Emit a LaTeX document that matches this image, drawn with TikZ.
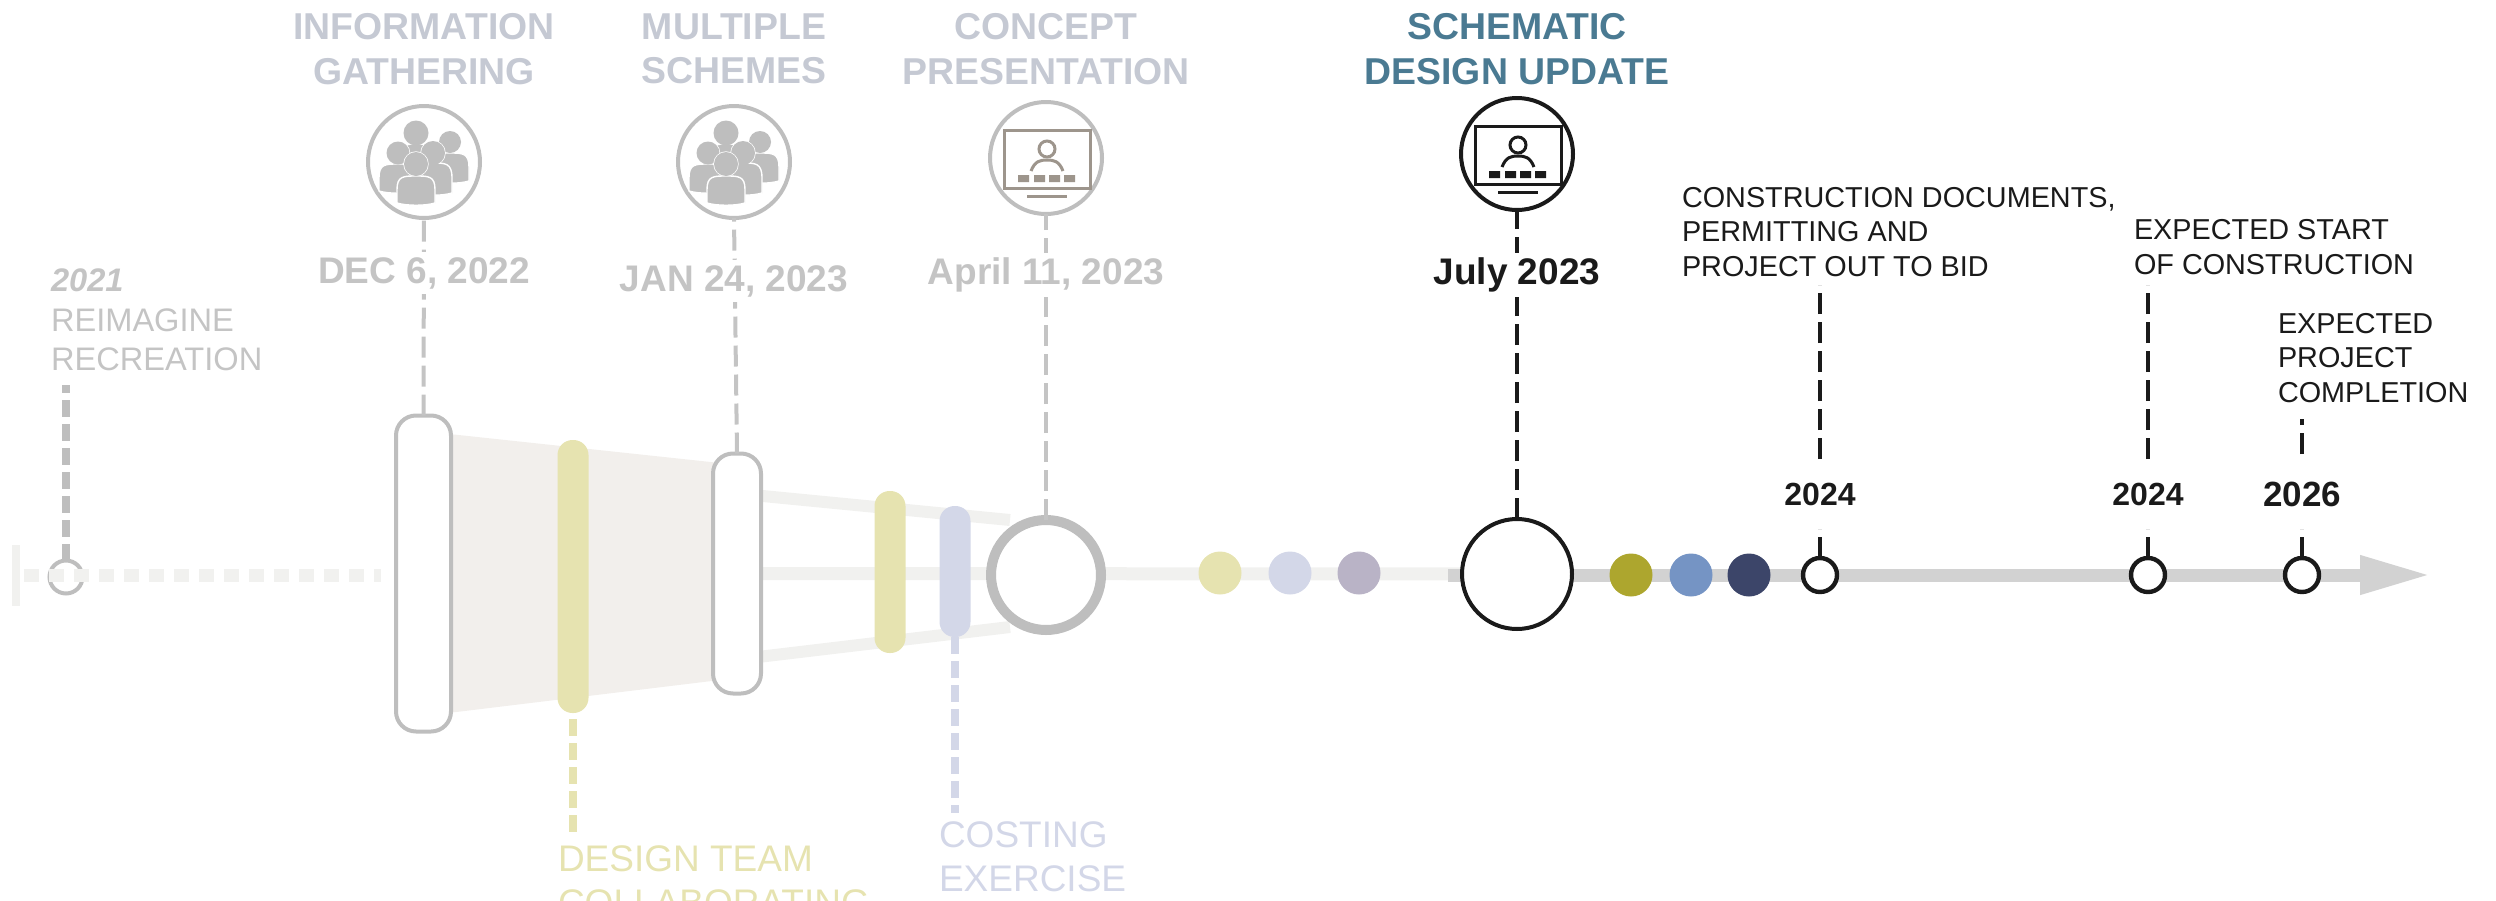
\documentclass[tikz,border=0pt]{standalone}
\usepackage{fontspec}
\setmainfont{Liberation Sans}
\usetikzlibrary{arrows.meta,backgrounds}
\definecolor{titlegrey}{HTML}{C5C9D3}
\definecolor{dategrey}{HTML}{C4C4C4}
\definecolor{ringgrey}{HTML}{BEBEBE}
\definecolor{screengrey}{HTML}{9D958C}
\definecolor{teal}{HTML}{4A7A92}
\definecolor{ink}{HTML}{1A1A1A}
\definecolor{pale}{HTML}{F1F1EF}
\definecolor{funnel}{HTML}{F2EFEC}
\definecolor{paleyellow}{HTML}{E6E3B0}
\definecolor{paleblue}{HTML}{D3D7E8}
\definecolor{palepurple}{HTML}{B9B3C6}
\definecolor{olive}{HTML}{ADA62E}
\definecolor{midblue}{HTML}{7594C4}
\definecolor{navy}{HTML}{3C4569}
\definecolor{axisgrey}{HTML}{D2D2D2}
\newcommand{\crowdperson}[6]{%
  \begin{scope}[shift={(#1,#2)}]
    \filldraw[draw=white,line width=.7pt,fill=ringgrey] (0,0) circle[radius=#3];
    \filldraw[draw=white,line width=.7pt,fill=ringgrey]
      ({-#5},#6) -- ({-#5},{#4+.5*(#6-#4)})
      .. controls ({-#5},#4) and ({-.65*#5},#4) .. (0,#4)
      .. controls ({.65*#5},#4) and (#5,#4) .. (#5,{#4+.5*(#6-#4)})
      -- (#5,#6) .. controls ({.5*#5},{#6+3}) and ({-.5*#5},{#6+3}) .. cycle;
    \fill[ringgrey] (0,0) circle[radius=#3];
  \end{scope}}
\tikzset{
  x=.5pt,y=-.5pt,
  every node/.style={inner sep=0pt,outer sep=0pt},
  title/.style={font=\fontsize{18.7}{22.2}\selectfont\bfseries,align=center,text=titlegrey},
  datelabel/.style={font=\fontsize{18.5}{22}\selectfont\bfseries,text=dategrey,fill=white,inner xsep=3pt,inner ysep=2.5pt},
  blacktext/.style={font=\fontsize{14.4}{17.4}\selectfont,align=left,anchor=west,text=ink},
  yearlabel/.style={font=\fontsize{16}{20}\selectfont\bfseries,text=ink,minimum height=35pt},
  iconring/.style={circle,draw=ringgrey,line width=2pt,minimum size=56pt,fill=white},
  inkring/.style={circle,draw=ink,line width=2pt,minimum size=56pt,fill=white},
  smallink/.style={circle,draw=ink,line width=2.2pt,minimum size=17pt,fill=white},
  dot/.style={circle,minimum size=21.5pt,fill=#1},
  shell/.style={rectangle,draw=ringgrey,line width=2pt,fill=white,rounded corners=10pt,minimum width=#1},
  band/.style={rectangle,rounded corners=7.5pt,minimum width=15.5pt,fill=#1},
  greydash/.style={draw=dategrey,line width=2pt,dash pattern=on 10.5pt off 4pt},
  inkdash/.style={draw=ink,line width=2pt,dash pattern=on 10.5pt off 4pt},
  thickdash/.style={line width=4pt,dash pattern=on 8.5pt off 3.5pt},
  screen/.pic={
    \draw[line width=1.5pt,draw=#1] (-42,-28) rectangle (44,30);
    \draw[line width=1.5pt,draw=#1] (1,-9) circle[radius=8];
    \draw[line width=1.5pt,draw=#1] (-15,13) .. controls (-11,3) and (-6,2) .. (1,2) .. controls (8,2) and (13,3) .. (17,13);
    \fill[#1] (-28,17) rectangle (-17,24) (-12,17) rectangle (-1,24) (3,17) rectangle (14,24) (18,17) rectangle (29,24);
    \draw[line width=1.5pt,draw=#1] (-19,38) -- (21,38);
  },
  crowd/.pic={
    \crowdperson{-8}{-29}{12.5}{11}{11}{20}
    \crowdperson{26}{-20}{11}{11}{19}{39}
    \crowdperson{-26}{-9}{11.5}{11}{19}{38}
    \crowdperson{9}{-9}{12}{10}{19}{40}
    \crowdperson{-8}{2}{12}{12}{19}{39}
  }
}
\begin{document}
\begin{tikzpicture}
\useasboundingbox (0,0) rectangle (2496,900);
\clip (0,0) rectangle (2496,900);

% titles
\node[title] (tInfo) at (424,49) {INFORMATION\\GATHERING};
\node[title] (tMulti) at (734,49) {MULTIPLE\\SCHEMES};
\node[title] (tConcept) at (1046,49) {CONCEPT\\PRESENTATION};
\node[title,text=teal] (tSchem) at (1517,49) {SCHEMATIC\\DESIGN UPDATE};

% icon rings
\node[iconring] (iInfo) at (424,162) {};
\node[iconring] (iMulti) at (734,162) {};
\node[iconring] (iConcept) at (1046,158) {};
\node[inkring] (iSchem) at (1517,154) {};
\pic at (424,162) {crowd};
\pic at (734,162) {crowd};
\pic at (1046,158) {screen=screengrey};
\pic at (1517,154) {screen=ink};

% funnel capsules
\node[shell=27.5pt,minimum height=158pt] (capA) at (423.5,573.5) {};
\node[band=paleyellow,minimum height=136.5pt] (yelA) at (573,576.5) {};
\node[shell=24pt,minimum height=120pt] (capB) at (737,573.5) {};
\node[band=paleyellow,minimum height=81pt] (yelB) at (890,572) {};
\node[band=paleblue,minimum height=65.5pt] (bluB) at (955,571.5) {};
\node[circle,draw=ringgrey,line width=5pt,minimum size=55pt,fill=white] (bigC) at (1046,575) {};

% middle of the timeline
\node[dot=paleyellow] (d1) at (1220,573) {};
\node[dot=paleblue] (d2) at (1290,573) {};
\node[dot=palepurple] (d3) at (1359,573) {};
\node[circle,draw=ink,line width=2pt,minimum size=55pt,fill=white] (bigK) at (1517,574) {};
\node[dot=olive] (d4) at (1631,575) {};
\node[dot=midblue] (d5) at (1691,575) {};
\node[dot=navy] (d6) at (1749,575) {};
\node[smallink] (s1) at (1820,575) {};
\node[smallink] (s2) at (2148,575) {};
\node[smallink] (s3) at (2302,575) {};

% free ends
\coordinate (tbarT) at (16,545);
\coordinate (tbarB) at (16,606);
\coordinate (tlineA) at (24,575);
\coordinate (tlineB) at (381,575);
\coordinate (axisA) at (1448,575);
\coordinate (axisB) at (2431,575);
\coordinate (recEnd) at (66,385);
\coordinate (yelEnd) at (573,832);
\coordinate (bluEnd) at (955,813);
\coordinate (e1) at (1820,285);
\coordinate (e2) at (2148,285);
\coordinate (e3) at (2302,419);

\begin{scope}[on background layer]
  \fill[funnel] (440,433) -- (720,463) -- (720,680) -- (440,714) -- cycle;
  \draw[pale,line width=6pt] (capB.center) ++(0,-80) -- (1010,520);
  \draw[pale,line width=6pt] (capB.center) ++(0,86) -- (1010,627);
  \draw[pale,line width=6.5pt] (capB.east) -- (bigK.center);
  \draw[axisgrey,line width=6.5pt,-{Triangle[length=35.5pt,width=18pt]}] (axisA) -- (axisB);
\end{scope}

% start of the timeline
\node[circle,draw=ringgrey,line width=2pt,minimum size=16.5pt] (s0) at (66,577) {};
\draw[pale,line width=4pt] (tbarT) -- (tbarB);
\draw[pale,line width=6.5pt,dash pattern=on 7.5pt off 5pt] (tlineA) -- (tlineB);

% connectors
\draw[greydash] (capA.north) -- (iInfo.south);
\draw[greydash] (capB.north) -- (iMulti.south);
\draw[greydash] (bigC.north) -- (iConcept.south);
\draw[inkdash] (bigK.north) -- (iSchem.south);
\draw[ringgrey,thickdash] (s0.north) -- (recEnd);
\draw[paleyellow,thickdash,shorten <=3pt] (yelA.south) -- (yelEnd);
\draw[paleblue,thickdash] (bluB.south) -- (bluEnd);

% dates
\node[datelabel] (dInfo) at (424,273) {DEC 6, 2022};
\node[datelabel] (dMulti) at (734,281) {JAN 24, 2023};
\node[datelabel] (dConcept) at (1046,275) {April 11, 2023};
\node[datelabel,text=ink] (dSchem) at (1517,275) {July 2023};

% years
\node[yearlabel] (y1) at (1820,494) {2024};
\node[yearlabel] (y2) at (2148,494) {2024};
\node[yearlabel,font=\fontsize{17.5}{20}\selectfont\bfseries] (y3) at (2302,494) {2026};
\draw[inkdash] (y1.north) -- (e1);
\draw[inkdash] (y2.north) -- (e2);
\draw[inkdash,shorten <=2.5pt] (y3.north) -- (e3);
\draw[inkdash] (s1.north) -- (y1.south);
\draw[inkdash] (s2.north) -- (y2.south);
\draw[inkdash] (s3.north) -- (y3.south);

% text blocks
\node[font=\fontsize{16.3}{19.8}\selectfont,align=left,anchor=west,text=dategrey] (lRec) at (51,320)
  {{\bfseries\itshape 2021}\\REIMAGINE\\RECREATION};
\node[font=\fontsize{18.5}{22}\selectfont,align=left,anchor=north west,text=paleyellow] (lDesign) at (558,846)
  {DESIGN TEAM\\COLLABORATING};
\node[font=\fontsize{18.5}{22}\selectfont,align=left,anchor=west,text=paleblue] (lCost) at (939,857)
  {COSTING\\EXERCISE};
\node[blacktext] (l1) at (1682,232) {CONSTRUCTION DOCUMENTS,\\PERMITTING AND\\PROJECT OUT TO BID};
\node[blacktext] (l2) at (2134,247) {EXPECTED START\\OF CONSTRUCTION};
\node[blacktext] (l3) at (2278,358) {EXPECTED\\PROJECT\\COMPLETION};
\end{tikzpicture}
\end{document}
